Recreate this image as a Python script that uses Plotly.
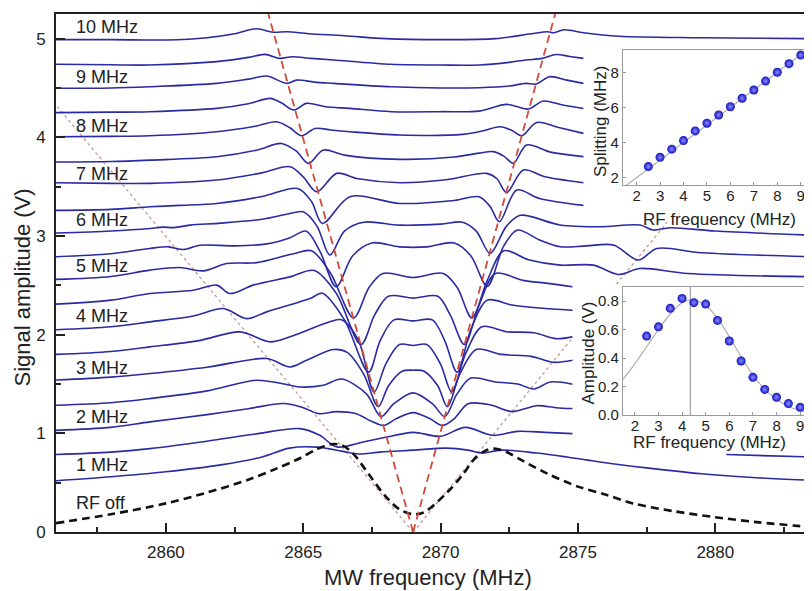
import plotly.graph_objects as go

# ---------------- main panel data (MW frequency in MHz, signal in V) ----------------
rf10_x = [2856, 2858, 2860, 2861.5, 2862.5, 2863.3, 2863.9, 2864.4, 2865.2, 2866.5, 2868, 2870, 2872, 2873.3, 2873.9, 2874.1, 2874.5, 2875.2, 2876.5, 2879.5, 2883.5]
rf10_y = [4.99, 4.99, 4.987, 5.01, 5.05, 5.10, 5.065, 5.07, 5.05, 5.03, 5.00, 4.99, 5.0, 5.05, 5.07, 5.06, 5.09, 5.06, 5.025, 5.01, 5.00]

rf95_x = [2856, 2858, 2859.4, 2861.85, 2863.0, 2863.6, 2864.15, 2864.6, 2865.3, 2866.1, 2868.2, 2870, 2871.4, 2872.5, 2873.1, 2873.7, 2874.2, 2874.7, 2875.2]
rf95_y = [4.74, 4.735, 4.733, 4.767, 4.81, 4.841, 4.80, 4.817, 4.80, 4.784, 4.74, 4.733, 4.733, 4.76, 4.784, 4.80, 4.84, 4.82, 4.80]

rf9_x = [2856, 2858, 2859.4, 2861.85, 2863.0, 2863.67, 2864.4, 2864.76, 2865.4, 2866.1, 2868.2, 2870, 2871.4, 2872.5, 2873.1, 2873.47, 2873.98, 2874.6, 2875.2]
rf9_y = [4.497, 4.50, 4.513, 4.547, 4.59, 4.621, 4.547, 4.58, 4.56, 4.547, 4.513, 4.50, 4.503, 4.52, 4.547, 4.54, 4.615, 4.58, 4.547]

rf85_x = [2856, 2858, 2859.4, 2861.85, 2863.0, 2863.8, 2864.2, 2864.66, 2865.12, 2865.8, 2866.7, 2868.2, 2870, 2871.4, 2872.41, 2873.2, 2873.74, 2874.4, 2875.2]
rf85_y = [4.25, 4.255, 4.26, 4.293, 4.34, 4.395, 4.35, 4.277, 4.344, 4.31, 4.293, 4.26, 4.26, 4.266, 4.334, 4.287, 4.368, 4.33, 4.293]

rf8_x = [2856, 2858, 2859.4, 2861.85, 2863.2, 2864.03, 2864.5, 2864.94, 2865.43, 2866, 2866.7, 2868.5, 2870.8, 2871.6, 2872.16, 2872.6, 2872.95, 2873.5, 2874.3, 2875.2]
rf8_y = [4.006, 4.01, 4.016, 4.057, 4.11, 4.158, 4.10, 4.016, 4.09, 4.075, 4.057, 4.024, 4.03, 4.07, 4.107, 4.07, 4.016, 4.151, 4.10, 4.04]

rf75_x = [2856, 2858, 2859.42, 2861.85, 2863.3, 2864.2, 2864.75, 2865.19, 2865.73, 2866.5, 2868.52, 2870.5, 2871.4, 2871.92, 2872.3, 2872.65, 2873.13, 2874, 2875.2]
rf75_y = [3.75, 3.755, 3.769, 3.803, 3.87, 3.938, 3.86, 3.736, 3.871, 3.82, 3.777, 3.80, 3.84, 3.855, 3.81, 3.737, 3.922, 3.85, 3.804]

rf7_x = [2856, 2858, 2859.42, 2861.85, 2863.5, 2864.52, 2865.0, 2865.49, 2866.22, 2867, 2868.52, 2870.2, 2871.68, 2872.05, 2872.4, 2873.01, 2873.8, 2875.2]
rf7_y = [3.54, 3.533, 3.533, 3.567, 3.64, 3.702, 3.60, 3.448, 3.635, 3.58, 3.54, 3.57, 3.635, 3.58, 3.439, 3.669, 3.60, 3.54]

rf65_x = [2856, 2858, 2859.42, 2860.5, 2861.85, 2863.5, 2864.8, 2865.3, 2865.7, 2866.7, 2868.52, 2870.5, 2871.4, 2871.8, 2872.14, 2872.77, 2873.6, 2875.2]
rf65_y = [3.26, 3.27, 3.296, 3.31, 3.33, 3.40, 3.482, 3.35, 3.127, 3.398, 3.33, 3.36, 3.398, 3.30, 3.145, 3.466, 3.38, 3.31]

rf6_x = [2856, 2858, 2859.42, 2859.9, 2860.3, 2860.88, 2862, 2863.5, 2864.4, 2865.0, 2865.5, 2865.97, 2866.5, 2867.2, 2868.5, 2870, 2870.8, 2871.3, 2871.8, 2872.4, 2872.9, 2874.35, 2875.8, 2877.26, 2877.74, 2878.35, 2880, 2883.5]
rf6_y = [3.03, 3.05, 3.076, 3.09, 3.085, 3.11, 3.13, 3.17, 3.22, 3.245, 3.10, 2.807, 3.05, 3.14, 3.11, 3.12, 3.14, 3.05, 2.824, 3.10, 3.21, 3.111, 3.093, 3.111, 3.06, 3.084, 3.05, 3.009]

rf55_x = [2856, 2858, 2859.42, 2860.1, 2860.64, 2861.24, 2862.5, 2863.67, 2864.5, 2865.1, 2865.6, 2866.2, 2866.8, 2867.5, 2868.5, 2869.5, 2870.5, 2871.1, 2871.7, 2872.3, 2872.8, 2873.6, 2874.35, 2875.3, 2876.29, 2877.2, 2877.87, 2879.5, 2883.5]
rf55_y = [2.79, 2.82, 2.874, 2.89, 2.863, 2.907, 2.90, 2.92, 2.98, 3.05, 2.85, 2.486, 2.80, 2.93, 2.89, 2.89, 2.93, 2.80, 2.49, 2.90, 3.06, 2.96, 2.891, 2.90, 2.908, 2.756, 2.874, 2.83, 2.79]

rf5_x = [2856, 2858, 2859.42, 2860.5, 2861.36, 2862.21, 2863.3, 2864.64, 2865.3, 2866.0, 2866.83, 2867.4, 2867.9, 2869.0, 2870.1, 2870.6, 2871.14, 2871.7, 2872.3, 2873.2, 2874.35, 2875.56, 2876.47, 2877.26, 2879, 2883.5]
rf5_y = [2.56, 2.59, 2.654, 2.68, 2.647, 2.721, 2.73, 2.82, 2.85, 2.62, 2.17, 2.48, 2.62, 2.58, 2.62, 2.48, 2.17, 2.55, 2.85, 2.76, 2.705, 2.705, 2.61, 2.671, 2.62, 2.587]

rf45_x = [2856, 2858, 2859.42, 2861.0, 2861.85, 2862.33, 2863.18, 2864.52, 2865.4, 2866.2, 2867.1, 2867.6, 2868.1, 2869, 2869.9, 2870.35, 2870.87, 2871.4, 2872.0, 2873.0, 2873.9, 2874.8]
rf45_y = [2.31, 2.35, 2.417, 2.45, 2.502, 2.417, 2.502, 2.586, 2.65, 2.42, 1.90, 2.20, 2.39, 2.37, 2.39, 2.20, 1.90, 2.30, 2.62, 2.55, 2.52, 2.485]

rf4_x = [2856, 2858, 2859.42, 2861.0, 2862.09, 2862.94, 2863.67, 2865.25, 2865.7, 2866.5, 2867.38, 2867.8, 2868.3, 2869, 2869.7, 2870.15, 2870.6, 2871.1, 2871.7, 2872.6, 2873.6, 2874.8]
rf4_y = [2.05, 2.08, 2.13, 2.19, 2.265, 2.163, 2.231, 2.366, 2.42, 2.15, 1.62, 1.94, 2.15, 2.14, 2.15, 1.94, 1.62, 2.05, 2.35, 2.30, 2.27, 2.248]

rf35_x = [2856, 2858, 2859.42, 2861.2, 2862.7, 2863.79, 2864.52, 2865.97, 2866.4, 2867.0, 2867.58, 2868.0, 2868.5, 2869, 2869.5, 2870.0, 2870.4, 2870.9, 2871.5, 2872.4, 2873.4, 2874.2, 2874.8]
rf35_y = [1.80, 1.83, 1.876, 1.94, 2.028, 1.927, 1.978, 2.13, 2.15, 1.95, 1.42, 1.70, 1.90, 1.89, 1.90, 1.70, 1.42, 1.80, 2.08, 2.03, 2.02, 1.96, 1.978]

rf3_x = [2856, 2858, 2859.42, 2861.5, 2863.67, 2864.52, 2865.12, 2866.1, 2866.6, 2867.2, 2867.73, 2868.1, 2868.6, 2869, 2869.4, 2869.9, 2870.25, 2870.7, 2871.3, 2872.2, 2873.3, 2874.1, 2874.8]
rf3_y = [1.54, 1.57, 1.606, 1.67, 1.758, 1.673, 1.741, 1.85, 1.82, 1.60, 1.27, 1.48, 1.63, 1.64, 1.63, 1.48, 1.27, 1.60, 1.85, 1.80, 1.78, 1.72, 1.741]

rf25_x = [2856, 2858, 2859.42, 2861.5, 2863.3, 2864.3, 2864.88, 2865.73, 2866.4, 2867.3, 2867.83, 2868.3, 2869, 2869.7, 2870.15, 2870.6, 2871.1, 2872, 2872.8, 2873.4, 2874.0, 2874.8]
rf25_y = [1.285, 1.31, 1.352, 1.43, 1.538, 1.50, 1.47, 1.487, 1.55, 1.40, 1.17, 1.30, 1.41, 1.30, 1.17, 1.40, 1.56, 1.52, 1.50, 1.45, 1.52, 1.498]

rf2_x = [2856, 2858, 2859.42, 2861.5, 2863, 2864.28, 2865.0, 2865.55, 2866.2, 2866.9, 2867.5, 2867.92, 2868.4, 2869, 2869.6, 2870.06, 2870.5, 2871.0, 2871.8, 2872.6, 2873.5, 2874.2, 2874.8]
rf2_y = [1.03, 1.06, 1.116, 1.19, 1.25, 1.302, 1.26, 1.20, 1.22, 1.20, 1.12, 1.08, 1.15, 1.21, 1.15, 1.08, 1.15, 1.30, 1.29, 1.22, 1.28, 1.26, 1.251]

rf15_x = [2856, 2858, 2859.42, 2861.5, 2863.2, 2864.88, 2865.6, 2866.22, 2867.19, 2868.0, 2869, 2870.0, 2870.9, 2871.9, 2872.8, 2873.8, 2874.8, None, 2880.4, 2883.5]
rf15_y = [0.785, 0.81, 0.845, 0.92, 0.99, 1.048, 0.98, 0.862, 0.913, 0.96, 1.01, 0.97, 1.06, 0.98, 1.02, 1.01, 0.997, None, 0.785, 0.76]

rf1_x = [2856, 2858, 2860, 2862, 2863.5, 2864.5, 2865.5, 2866.4, 2867.0, 2867.8, 2869, 2870.2, 2871.0, 2871.5, 2872.2, 2873.5, 2874.6, 2875.8, 2877.5, 2879.5, 2881.5, 2883.5]
rf1_y = [0.52, 0.56, 0.61, 0.68, 0.76, 0.85, 0.86, 0.82, 0.79, 0.81, 0.83, 0.85, 0.83, 0.80, 0.83, 0.80, 0.76, 0.71, 0.65, 0.59, 0.55, 0.524]

rfoff_x = [2856.0, 2858.0, 2860.0, 2861.5, 2863.0, 2864.0, 2864.9, 2865.5, 2866.0, 2866.4, 2866.8, 2867.4, 2868.0, 2868.5, 2869.0, 2869.4, 2870.2, 2870.8, 2871.2, 2871.6, 2871.95, 2872.4, 2873.0, 2873.9, 2875.0, 2876.0, 2877.0, 2878.5, 2880.0, 2881.5, 2883.5]
rfoff_y = [0.09, 0.18, 0.29, 0.40, 0.53, 0.64, 0.75, 0.84, 0.89, 0.88, 0.80, 0.58, 0.36, 0.23, 0.18, 0.20, 0.39, 0.58, 0.73, 0.82, 0.845, 0.81, 0.72, 0.59, 0.46, 0.38, 0.29, 0.21, 0.15, 0.10, 0.05]

# guide lines
red_left_x = [2869.0, 2863.73]
red_left_y = [0.0, 5.25]
red_right_x = [2869.0, 2874.17]
red_right_y = [0.0, 5.25]
dot_left_x = [2869.0, 2856.05]
dot_left_y = [0.0, 4.31]
dot_right_x = [2869.0, 2874.8, None, 2876.4, 2878.25]
dot_right_y = [0.0, 1.966, None, 2.51, 3.14]

trace_labels = ["10 MHz", "9 MHz", "8 MHz", "7 MHz", "6 MHz", "5 MHz", "4 MHz", "3 MHz", "2 MHz", "1 MHz", "RF off"]
label_y = [5.114, 4.607, 4.115, 3.628, 3.166, 2.697, 2.19, 1.665, 1.17, 0.68, 0.296]

# ---------------- inset data ----------------
inset_rf = [2.5, 3.0, 3.5, 4.0, 4.5, 5.0, 5.5, 6.0, 6.5, 7.0, 7.5, 8.0, 8.5, 9.0]
splitting = [2.63, 3.16, 3.62, 4.11, 4.66, 5.10, 5.57, 6.04, 6.52, 6.99, 7.50, 8.0, 8.49, 8.98]
split_fit_x = [1.4, 9.5]
split_fit_y = [1.4, 9.5]
amplitude = [0.555, 0.62, 0.75, 0.82, 0.79, 0.78, 0.665, 0.52, 0.38, 0.265, 0.18, 0.125, 0.08, 0.054]
amp_fit_x = [1.5, 2.0, 2.5, 3.0, 3.5, 4.0, 4.35, 4.7, 5.0, 5.5, 6.0, 6.5, 7.0, 7.5, 8.0, 8.5, 9.0, 9.5]
amp_fit_y = [0.25, 0.36, 0.48, 0.60, 0.71, 0.79, 0.81, 0.80, 0.77, 0.68, 0.55, 0.41, 0.28, 0.18, 0.11, 0.06, 0.03, 0.015]
amp_marker_x = [4.35, 4.35]
amp_marker_y = [0.0, 0.9]

FONT = "Liberation Sans, Arial, sans-serif"
BLUE = "#2a2aa3"

# The page body has an 8 px margin; the figure is sized so it ends at the window edge.
W, H = 804, 583
PL, PT, PB = 48, 6, 59          # plot area: 48..804 (x), 6..524 (y) inside the figure
PW, PH = W - PL, H - PT - PB


def px(xp):   # reference-window pixel -> paper x
    return (xp - 8 - PL) / PW


def py(yp):   # reference-window pixel -> paper y
    return 1 - (yp - 8 - PT) / PH


fig = go.Figure()


def line(x, y, color, width, dash="solid", shape="linear", xa="x", ya="y"):
    fig.add_trace(go.Scatter(x=x, y=y, mode="lines", xaxis=xa, yaxis=ya,
                             line=dict(color=color, width=width, dash=dash, shape=shape, smoothing=0.9),
                             hoverinfo="skip", showlegend=False, connectgaps=False))


line(dot_left_x, dot_left_y, "#c49a9a", 1.3, "dot")
line(dot_right_x, dot_right_y, "#c49a9a", 1.3, "dot")

spectra = [(rf10_x, rf10_y), (rf95_x, rf95_y), (rf9_x, rf9_y), (rf85_x, rf85_y), (rf8_x, rf8_y),
           (rf75_x, rf75_y), (rf7_x, rf7_y), (rf65_x, rf65_y), (rf6_x, rf6_y), (rf55_x, rf55_y),
           (rf5_x, rf5_y), (rf45_x, rf45_y), (rf4_x, rf4_y), (rf35_x, rf35_y), (rf3_x, rf3_y),
           (rf25_x, rf25_y), (rf2_x, rf2_y), (rf15_x, rf15_y), (rf1_x, rf1_y)]
for sx, sy in spectra:
    line(sx, sy, BLUE, 1.6, shape="spline")

line(rfoff_x, rfoff_y, "#111111", 2.6, "8px,5px", shape="spline")
line(red_left_x, red_left_y, "#d04a3c", 1.8, "8px,5px")
line(red_right_x, red_right_y, "#d04a3c", 1.8, "8px,5px")

# insets
line(split_fit_x, split_fit_y, "#b0b0b0", 1.2, xa="x2", ya="y2")
fig.add_trace(go.Scatter(x=inset_rf, y=splitting, mode="markers", xaxis="x2", yaxis="y2",
                         marker=dict(size=9, color="#1212c0", gradient=dict(type="radial", color="#8c8cff")),
                         hoverinfo="skip", showlegend=False))
line(amp_fit_x, amp_fit_y, "#b0b0b0", 1.2, shape="spline", xa="x3", ya="y3")
line(amp_marker_x, amp_marker_y, "#a0a0a0", 1.2, xa="x3", ya="y3")
fig.add_trace(go.Scatter(x=inset_rf, y=amplitude, mode="markers", xaxis="x3", yaxis="y3",
                         marker=dict(size=9, color="#1212c0", gradient=dict(type="radial", color="#8c8cff")),
                         hoverinfo="skip", showlegend=False))

ann = []
for t, yy in zip(trace_labels, label_y):
    ann.append(dict(x=2856.65, y=yy, xref="x", yref="y", text=t, showarrow=False, xanchor="left",
                    yanchor="middle", font=dict(family=FONT, size=18, color="#222")))


def title(text, xp, yp, size, angle=0):
    return dict(x=px(xp), y=py(yp), xref="paper", yref="paper", text=text, textangle=angle,
                showarrow=False, xanchor="center", yanchor="middle",
                font=dict(family=FONT, size=size, color="#222"))


ann += [
    title("Signal amplitude (V)", 21.5, 288, 22, -90),
    title("MW frequency (MHz)", 428, 577, 22),
    title("Splitting (MHz)", 600, 122, 17, -90),
    title("RF frequency (MHz)", 719.5, 219, 17),
    title("Amplitude (V)", 587.5, 353, 17, -90),
    title("RF frequency (MHz)", 709, 442, 17),
]

inset_axis = dict(showline=True, linecolor="#9a9a9a", linewidth=1.2, mirror=True, ticks="inside",
                  ticklen=3, tickcolor="#9a9a9a", showgrid=False, zeroline=False,
                  tickfont=dict(family=FONT, size=15, color="#222"))

fig.update_layout(
    width=W, height=H,
    margin=dict(l=PL, r=0, t=PT, b=PB, autoexpand=False),
    paper_bgcolor="white", plot_bgcolor="white",
    showlegend=False,
    annotations=ann,
    xaxis=dict(range=[2856, 2883.52], domain=[0, 1], tickmode="linear", tick0=2860, dtick=5,
               ticks="inside", ticklen=9, tickwidth=1.6, tickcolor="#222",
               minor=dict(dtick=2.5, tick0=2857.5, ticks="inside", ticklen=5, tickwidth=1.6, tickcolor="#222"),
               showline=True, linecolor="#222", linewidth=1.8, mirror=True, showgrid=False, zeroline=False,
               ticklabelstandoff=4, tickfont=dict(family=FONT, size=17, color="#222")),
    yaxis=dict(range=[0, 5.25], domain=[0, 1], tickmode="linear", tick0=0, dtick=1,
               ticks="inside", ticklen=9, tickwidth=1.6, tickcolor="#222",
               minor=dict(dtick=0.5, tick0=0, ticks="inside", ticklen=5, tickwidth=1.6, tickcolor="#222"),
               showline=True, linecolor="#222", linewidth=1.8, mirror=False, showgrid=False, zeroline=False,
               ticklabelstandoff=5, tickfont=dict(family=FONT, size=17, color="#222")),
    xaxis2=dict(inset_axis, domain=[px(623), 1.0], anchor="y2", range=[1.42, 9.48], dtick=1, tick0=2,
                ticklabelstandoff=-3),
    yaxis2=dict(inset_axis, domain=[py(185), py(50)], anchor="x2", range=[1.58, 9.27], dtick=2, tick0=2),
    xaxis3=dict(inset_axis, domain=[px(623), 1.0], anchor="y3", range=[1.5, 9.5], dtick=1, tick0=2,
                ticklabelstandoff=-3),
    yaxis3=dict(inset_axis, domain=[py(415), py(287)], anchor="x3", range=[0, 0.9], dtick=0.2, tick0=0,
                tickformat=".1f"),
)

fig.write_html("out.html")
